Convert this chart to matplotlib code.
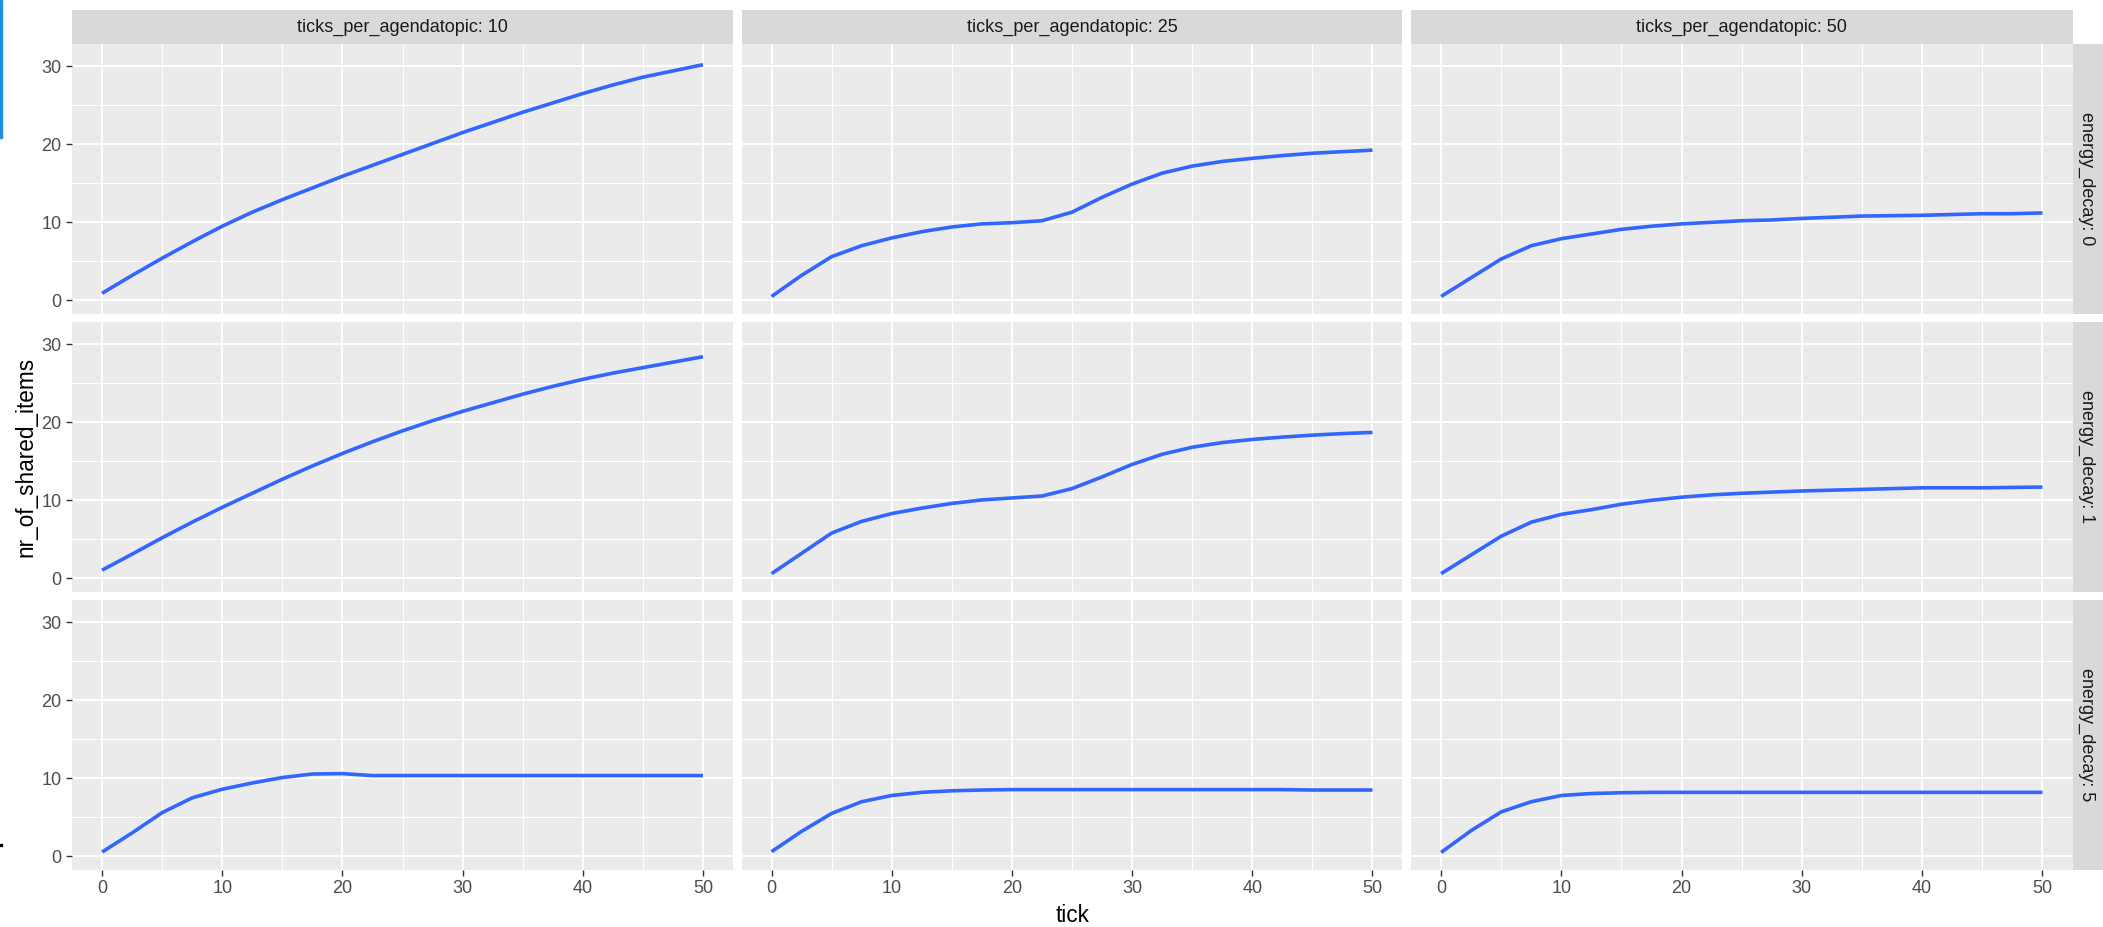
import matplotlib
matplotlib.use("Agg")
import matplotlib.pyplot as plt
from matplotlib.patches import Rectangle

plt.rcParams['font.family'] = ['Liberation Sans', 'DejaVu Sans']

# ---------------- data ----------------
tick = [0, 2.5, 5, 7.5, 10, 12.5, 15, 17.5, 20, 22.5, 25, 27.5, 30,
        32.5, 35, 37.5, 40, 42.5, 45, 47.5, 50]

col_labels = ["ticks_per_agendatopic: 10", "ticks_per_agendatopic: 25",
              "ticks_per_agendatopic: 50"]
row_labels = ["energy_decay: 0", "energy_decay: 1", "energy_decay: 5"]

x_ticks = [0, 10, 20, 30, 40, 50]
y_ticks = [0, 10, 20, 30]

# energy_decay 0
ed0_tpa10 = [0.9, 3.2, 5.4, 7.5, 9.5, 11.3, 12.9, 14.4, 15.9, 17.3, 18.7, 20.1, 21.5,
             22.8, 24.1, 25.3, 26.5, 27.6, 28.6, 29.4, 30.2]
ed0_tpa25 = [0.5, 3.2, 5.6, 7.0, 8.0, 8.8, 9.4, 9.8, 9.95, 10.2, 11.3, 13.2, 14.9,
             16.3, 17.2, 17.8, 18.2, 18.55, 18.85, 19.05, 19.25]
ed0_tpa50 = [0.5, 2.9, 5.3, 7.0, 7.9, 8.5, 9.1, 9.5, 9.8, 10.0, 10.2, 10.3, 10.5,
             10.65, 10.8, 10.85, 10.9, 11.0, 11.1, 11.1, 11.2]
# energy_decay 1
ed1_tpa10 = [1.05, 3.1, 5.2, 7.2, 9.1, 10.9, 12.7, 14.4, 16.0, 17.5, 18.9, 20.2, 21.4,
             22.5, 23.6, 24.6, 25.5, 26.3, 27.0, 27.7, 28.4]
ed1_tpa25 = [0.6, 3.2, 5.8, 7.3, 8.3, 9.0, 9.6, 10.05, 10.3, 10.55, 11.5, 13.0, 14.6,
             15.9, 16.8, 17.4, 17.8, 18.1, 18.35, 18.55, 18.7]
ed1_tpa50 = [0.6, 3.0, 5.4, 7.2, 8.2, 8.8, 9.5, 10.0, 10.4, 10.7, 10.9, 11.05, 11.2,
             11.3, 11.4, 11.5, 11.6, 11.6, 11.6, 11.65, 11.7]
# energy_decay 5
ed5_tpa10 = [0.55, 3.0, 5.6, 7.5, 8.6, 9.4, 10.1, 10.55, 10.6, 10.35, 10.35, 10.35, 10.35,
             10.35, 10.35, 10.35, 10.35, 10.35, 10.35, 10.35, 10.35]
ed5_tpa25 = [0.6, 3.2, 5.5, 7.0, 7.8, 8.2, 8.4, 8.5, 8.55, 8.55, 8.55, 8.55, 8.55,
             8.55, 8.55, 8.55, 8.55, 8.55, 8.5, 8.5, 8.5]
ed5_tpa50 = [0.5, 3.3, 5.7, 7.0, 7.8, 8.05, 8.15, 8.2, 8.2, 8.2, 8.2, 8.2, 8.2,
             8.2, 8.2, 8.2, 8.2, 8.2, 8.2, 8.2, 8.2]

grid = [[ed0_tpa10, ed0_tpa25, ed0_tpa50],
        [ed1_tpa10, ed1_tpa25, ed1_tpa50],
        [ed5_tpa10, ed5_tpa25, ed5_tpa50]]

# ---------------- layout (pixels) ----------------
W, H = 2103, 927
fig = plt.figure(figsize=(W / 100, H / 100), dpi=100)
fig.patch.set_facecolor("white")

col_x = [(72, 733), (741.5, 1402.5), (1411, 2072.5)]
row_y = [(44, 314), (322, 592), (600, 870)]
strip_top = (10, 44)
strip_right = (2072.5, 2106)


def add_px_axes(x0, y0, x1, y1):
    return fig.add_axes([x0 / W, 1 - y1 / H, (x1 - x0) / W, (y1 - y0) / H])


GRAY30 = "#4D4D4D"
for r in range(3):
    for c in range(3):
        x0, x1 = col_x[c]
        y0, y1 = row_y[r]
        ax = add_px_axes(x0, y0, x1, y1)
        ax.set_facecolor("#EBEBEB")
        for s in ax.spines.values():
            s.set_visible(False)
        ax.set_xlim(-2.5, 52.5)
        ax.set_ylim(-1.75, 32.85)
        ax.set_xticks(x_ticks)
        ax.set_xticks([5, 15, 25, 35, 45], minor=True)
        ax.set_yticks(y_ticks)
        ax.set_yticks([5, 15, 25], minor=True)
        ax.grid(which="major", color="white", lw=1.4)
        ax.grid(which="minor", color="white", lw=0.75)
        ax.set_axisbelow(True)
        ax.tick_params(which="minor", length=0)
        ax.tick_params(which="major", length=4.3, width=1.0, color="#333333",
                       labelsize=13, labelcolor=GRAY30, pad=3.2)
        if c != 0:
            ax.tick_params(axis="y", length=0, labelleft=False)
        if r != 2:
            ax.tick_params(axis="x", length=0, labelbottom=False)
        ax.plot(tick, grid[r][c], color="#3366FF", lw=2.6, solid_capstyle="butt",
                solid_joinstyle="round", zorder=3)

# top strips
for c in range(3):
    x0, x1 = col_x[c]
    sa = add_px_axes(x0, strip_top[0], x1, strip_top[1])
    sa.set_facecolor("#D9D9D9")
    sa.set_xticks([]); sa.set_yticks([])
    for s in sa.spines.values():
        s.set_visible(False)
    sa.text(0.5, 0.5, col_labels[c], ha="center", va="center", fontsize=13,
            color="#1A1A1A", transform=sa.transAxes)

# right strips
for r in range(3):
    y0, y1 = row_y[r]
    sa = add_px_axes(strip_right[0], y0, strip_right[1], y1)
    sa.set_facecolor("#D9D9D9")
    sa.set_xticks([]); sa.set_yticks([])
    for s in sa.spines.values():
        s.set_visible(False)
    sa.text(0.42, 0.5, row_labels[r], ha="center", va="center", fontsize=13,
            color="#1A1A1A", rotation=-90, transform=sa.transAxes)

# axis titles
fig.text(((col_x[0][0] + col_x[2][1]) / 2) / W, 1 - 915 / H, "tick",
         ha="center", va="center", fontsize=16.3, color="black")
fig.text(26 / W, 1 - 457 / H, "nr_of_shared_items", ha="center", va="center",
         rotation=90, fontsize=16.3, color="black")

# screenshot edge artifacts
fig.patches.append(Rectangle((0, 1 - 138 / H), 2.2 / W, 138 / H,
                             transform=fig.transFigure, color="#1E8FE1"))
fig.patches.append(Rectangle((0, 1 - 846 / H), 2.2 / W, 2 / H,
                             transform=fig.transFigure, color="black"))

fig.savefig("out.png", dpi=100)
